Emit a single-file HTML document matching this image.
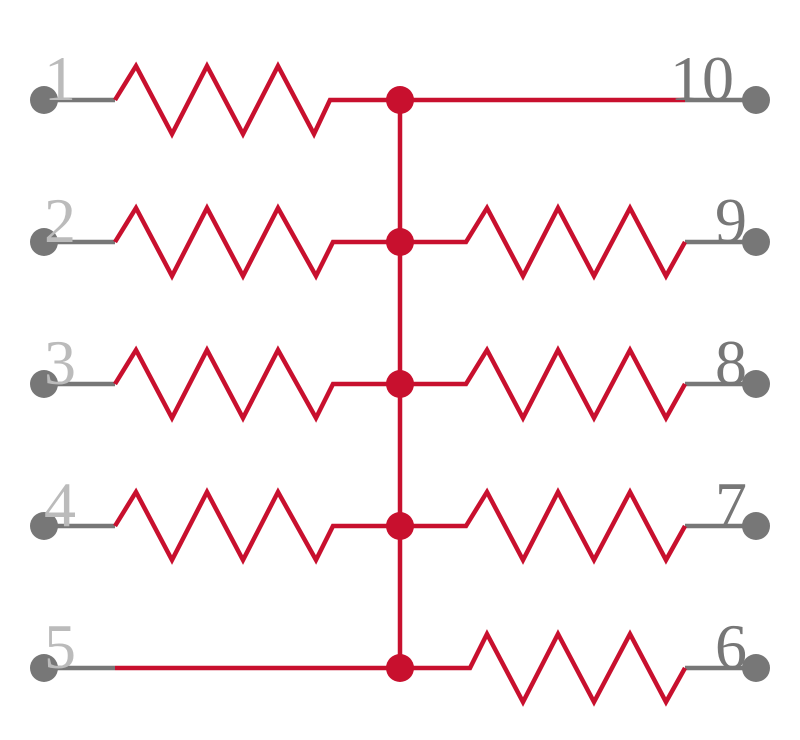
<!DOCTYPE html>
<html><head><style>body{margin:0;background:#fff}svg{display:block}</style></head><body>
<svg width="800" height="740" xmlns="http://www.w3.org/2000/svg">
<g fill="none" stroke-width="4.5" stroke-linejoin="miter">
<g stroke="#777">
<line x1="44" y1="100" x2="115" y2="100"/><line x1="44" y1="242" x2="115" y2="242"/><line x1="44" y1="384" x2="115" y2="384"/><line x1="44" y1="526" x2="115" y2="526"/><line x1="44" y1="668" x2="115" y2="668"/>
<line x1="685" y1="100" x2="756" y2="100"/><line x1="685" y1="242" x2="756" y2="242"/><line x1="685" y1="384" x2="756" y2="384"/><line x1="685" y1="526" x2="756" y2="526"/><line x1="685" y1="668" x2="756" y2="668"/>
</g>
<g stroke="#c8102e">
<polyline points="115,100 136,66 172,134 207,66 243,134 278,66 314,134 330,100 400,100 685,100"/>
<polyline points="115,242 136,208 172,276 207,208 243,276 278,208 316,276 333,242 466,242 487,208 523,276 558,208 594,276 630,208 666,276 685,242"/>
<polyline points="115,384 136,350 172,418 207,350 243,418 278,350 316,418 333,384 466,384 487,350 523,418 558,350 594,418 630,350 666,418 685,384"/>
<polyline points="115,526 136,492 172,560 207,492 243,560 278,492 316,560 333,526 466,526 487,492 523,560 558,492 594,560 630,492 666,560 685,526"/>
<polyline points="115,668 470,668 487,634 523,702 558,634 594,702 630,634 666,702 685,668"/>
<line x1="400" y1="100" x2="400" y2="668"/>
</g>
</g>
<g fill="#c8102e"><circle cx="400" cy="100" r="14"/><circle cx="400" cy="242" r="14"/><circle cx="400" cy="384" r="14"/><circle cx="400" cy="526" r="14"/><circle cx="400" cy="668" r="14"/></g>
<g fill="#777"><circle cx="44" cy="100" r="14"/><circle cx="44" cy="242" r="14"/><circle cx="44" cy="384" r="14"/><circle cx="44" cy="526" r="14"/><circle cx="44" cy="668" r="14"/>
<circle cx="756" cy="100" r="14"/><circle cx="756" cy="242" r="14"/><circle cx="756" cy="384" r="14"/><circle cx="756" cy="526" r="14"/><circle cx="756" cy="668" r="14"/></g>
<g font-family="Liberation Serif, serif" font-size="64" fill="#bbb">
<text x="44" y="100">1</text><text x="44" y="242">2</text><text x="44" y="384">3</text><text x="44" y="526">4</text><text x="44" y="668">5</text>
</g>
<g font-family="Liberation Serif, serif" font-size="64" fill="#777" text-anchor="end">
<text x="734" y="100">10</text><text x="747" y="242">9</text><text x="747" y="384">8</text><text x="747" y="526">7</text><text x="747" y="668">6</text>
</g>
</svg>
</body></html>
